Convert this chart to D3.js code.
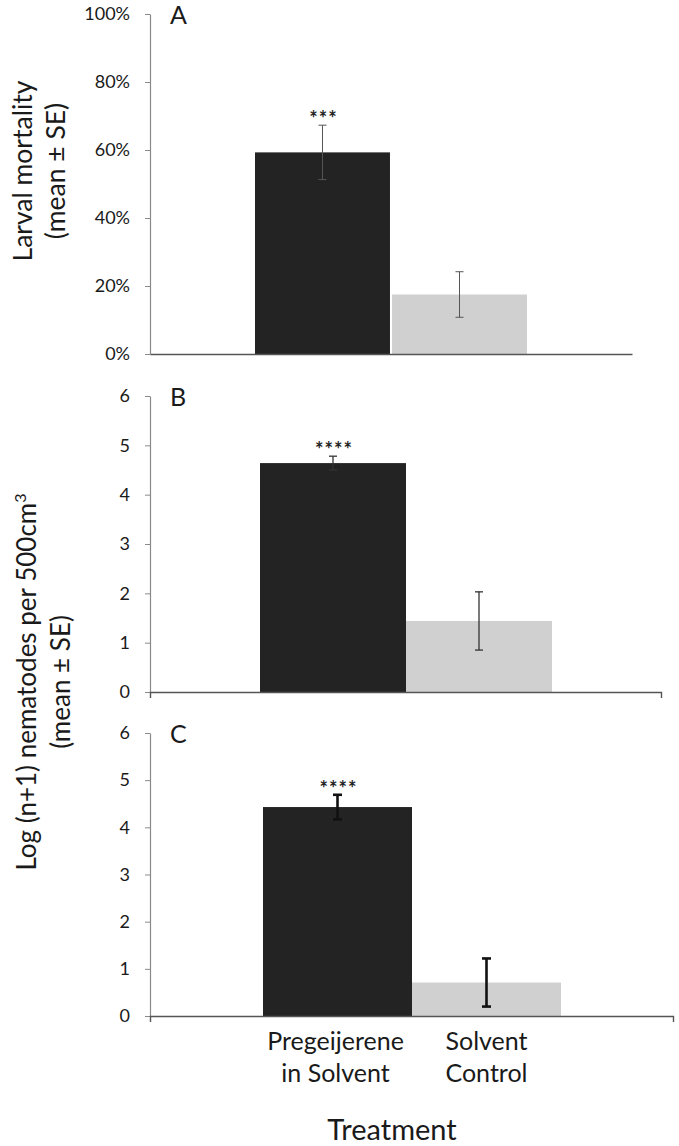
<!DOCTYPE html>
<html>
<head>
<meta charset="utf-8">
<script src="https://cdn.jsdelivr.net/npm/d3@7/dist/d3.min.js"></script>
<style>
  html, body { margin: 0; padding: 0; background: #fff; }
  svg { display: block; font-family: Lato, "Open Sans", sans-serif; }
</style>
</head>
<body>
<svg id="chart" width="679" height="1146"></svg>
<script>
// ---- data ----
const categories = ["Pregeijerene in Solvent", "Solvent Control"];
const categoryLines = [["Pregeijerene", "in Solvent"], ["Solvent", "Control"]];

const mortalityMean = [59.3, 17.5];     // % (panel A)
const mortalitySE   = [8.0, 6.7];
const mortalityTicks = [0, 20, 40, 60, 80, 100];

const nematodesBMean = [4.64, 1.44];    // log(n+1) (panel B)
const nematodesBSE   = [0.14, 0.59];
const nematodesCMean = [4.43, 0.71];    // log(n+1) (panel C)
const nematodesCSE   = [0.26, 0.51];
const nematodeTicks = [0, 1, 2, 3, 4, 5, 6];

const significance = ["***", "****", "****"];
const panelLetters = ["A", "B", "C"];

// ---- layout ----
const svg = d3.select("#chart");
const barColors = ["#232323", "#d0d0d0"];
const textColor = "#1a1a1a";

const panels = [
  { letter: panelLetters[0], mean: mortalityMean, se: mortalitySE, domain: [0, 100], ticks: mortalityTicks,
    fmt: d => d + "%", yRange: [354, 14], axisX: [150, 632], barRange: [255, 527], pad: 0.015,
    sig: significance[0], errColor: "#555", errWidth: 1, cap: 8, rightTick: false },
  { letter: panelLetters[1], mean: nematodesBMean, se: nematodesBSE, domain: [0, 6], ticks: nematodeTicks,
    fmt: d => String(d), yRange: [692, 396], axisX: [150, 661], barRange: [260, 552], pad: 0,
    sig: significance[1], errColor: "#333", errWidth: 1.3, cap: 8, rightTick: true },
  { letter: panelLetters[2], mean: nematodesCMean, se: nematodesCSE, domain: [0, 6], ticks: nematodeTicks,
    fmt: d => String(d), yRange: [1016, 733], axisX: [150, 673], barRange: [263, 561], pad: 0,
    sig: significance[2], errColor: "#111", errWidth: 2.6, cap: 9, rightTick: true }
];

panels.forEach(p => {
  const y = d3.scaleLinear().domain(p.domain).range(p.yRange);
  const x = d3.scaleBand().domain(categories).range(p.barRange).paddingInner(p.pad).paddingOuter(0);
  const g = svg.append("g");

  // y axis
  const yAxis = d3.axisLeft(y).tickValues(p.ticks).tickFormat(p.fmt).tickSize(5).tickSizeOuter(0).tickPadding(15);
  const ya = g.append("g").attr("transform", `translate(${p.axisX[0]},0)`).call(yAxis);
  ya.select(".domain").attr("stroke", "#8a8a8a").attr("stroke-width", 1.2);
  ya.selectAll(".tick line").attr("stroke", "#8a8a8a");
  ya.selectAll(".tick text").attr("fill", textColor).style("font-size", "18px").style("font-family", "Lato, sans-serif");

  // bars
  g.selectAll("rect.bar").data(categories).join("rect")
    .attr("class", "bar")
    .attr("x", d => x(d))
    .attr("width", x.bandwidth())
    .attr("y", (d, i) => y(p.mean[i]))
    .attr("height", (d, i) => y(0) - y(p.mean[i]))
    .attr("fill", (d, i) => barColors[i]);

  // x axis line
  const xa = d3.axisBottom(d3.scaleLinear().domain([0, 1]).range(p.axisX)).tickValues([]).tickSizeOuter(p.rightTick ? 6 : 0);
  const xg = g.append("g").attr("transform", `translate(0,${y(0)})`).call(xa);
  xg.select(".domain").attr("stroke", "#555").attr("stroke-width", 1.4);

  // error bars
  categories.forEach((c, i) => {
    const cx = x(c) + x.bandwidth() / 2;
    const top = y(p.mean[i] + p.se[i]), bot = y(p.mean[i] - p.se[i]);
    const eg = g.append("g").attr("stroke", p.errColor).attr("stroke-width", p.errWidth);
    eg.append("line").attr("x1", cx).attr("x2", cx).attr("y1", top).attr("y2", bot);
    eg.append("line").attr("x1", cx - p.cap / 2).attr("x2", cx + p.cap / 2).attr("y1", top).attr("y2", top);
    eg.append("line").attr("x1", cx - p.cap / 2).attr("x2", cx + p.cap / 2).attr("y1", bot).attr("y2", bot);
  });

  // significance
  const c0 = categories[0];
  g.append("text")
    .attr("x", x(c0) + x.bandwidth() / 2 + 1)
    .attr("y", y(p.mean[0] + p.se[0]) + 1)
    .attr("text-anchor", "middle")
    .attr("fill", "#222")
    .style("font-size", "20px").style("font-weight", "bold").style("letter-spacing", "1px")
    .text(p.sig);

  // panel letter
  g.append("text")
    .attr("x", p.axisX[0] + 20)
    .attr("y", p.yRange[1] + 10)
    .attr("fill", textColor)
    .style("font-size", "25px")
    .text(p.letter);

  p.x = x;
});

// y titles
function yTitle(lines, cy, xs, size) {
  lines.forEach((ln, k) => {
    const t = svg.append("text")
      .attr("transform", `translate(${xs[k]},${cy}) rotate(-90)`)
      .attr("text-anchor", "middle")
      .attr("fill", textColor)
      .style("font-size", size + "px");
    ln.forEach(part => {
      const ts = t.append("tspan").text(part.t);
      if (part.sup) ts.style("font-size", (size * 0.62) + "px").attr("dy", -size * 0.4);
    });
  });
}
yTitle([[{ t: "Larval mortality" }], [{ t: "(mean ± SE)" }]], 171, [32, 65], 26.5);
yTitle([[{ t: "Log (n+1) nematodes per 500cm" }, { t: "3", sup: true }], [{ t: "(mean ± SE)" }]], 682, [36, 70], 26);

// category labels under last panel
const xl = panels[2].x;
categories.forEach((c, i) => {
  const t = svg.append("text")
    .attr("x", xl(c) + xl.bandwidth() / 2)
    .attr("text-anchor", "middle")
    .attr("fill", textColor)
    .style("font-size", "25px");
  categoryLines[i].forEach((ln, k) => {
    t.append("tspan").attr("x", xl(c) + xl.bandwidth() / 2 - (i === 0 ? 2 : 0)).attr("y", 1050 + k * 32).text(ln);
  });
});

svg.append("text")
  .attr("x", 392).attr("y", 1140)
  .attr("text-anchor", "middle")
  .attr("fill", textColor)
  .style("font-size", "29px")
  .text("Treatment");
</script>
</body>
</html>
